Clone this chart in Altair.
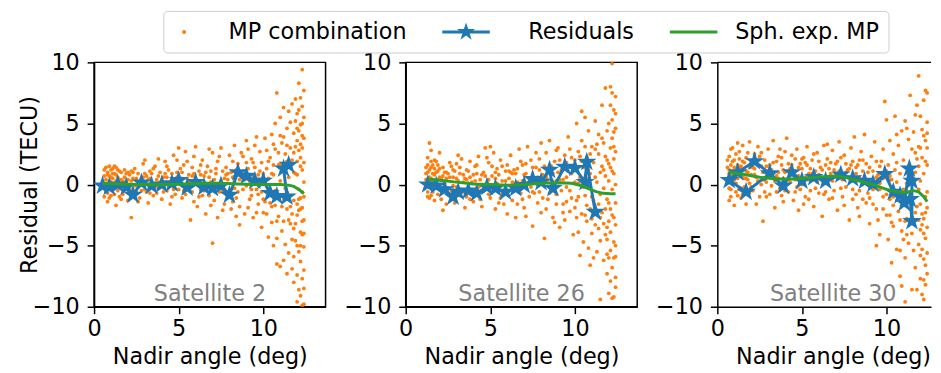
import altair as alt
import pandas as pd

FONT = "DejaVu Sans"
FS = 22.5
series_names = ["MP combination", "Residuals", "Sph. exp. MP"]
series_colors = ["#ff7f0e", "#1f77b4", "#2ca02c"]
satellites = ["Satellite 2", "Satellite 26", "Satellite 30"]
x_ticks = [0, 5, 10]
y_ticks = [-10, -5, 0, 5, 10]
y_domain = [-10, 10]
x_domains = [[0, 13.68], [0, 13.68], [0, 12.63]]
panel_widths = [234, 234, 216]
sat_label_pos = [6.85, -9.0]

# ---- MP combination scatter (x = nadir angle, y = residual) ----
mp_sat2 = [
    (0.6,1.2),(0.7,0.4),(0.7,-0.6),(0.8,1.0),(0.8,-1.4),(0.9,0.7),(0.9,1.5),(1.0,0.2),(1.0,-0.9),(1.1,1.3),
    (1.1,0.5),(1.2,-0.3),(1.2,0.9),(1.3,1.4),(1.3,-1.7),(1.4,0.6),(1.4,-0.5),(1.5,1.1),(0.6,-0.2),(0.8,0.8),
    (1.0,1.2),(1.2,0.1),(1.5,-1.0),(0.9,-0.4),(1.3,0.3),
    (1.6,0.4),(1.7,-0.8),(1.8,1.2),(1.9,0.2),(2.0,-1.3),(2.1,0.8),(2.2,-2.7),(2.3,0.5),(2.4,1.3),(2.5,-0.6),
    (2.6,0.9),(2.7,-1.1),(2.8,0.3),(2.9,1.7),(3.0,-0.4),(3.0,2.0),(3.1,0.7),(3.2,-1.5),(3.3,1.1),(3.4,0.1),
    (3.5,-0.9),(3.6,1.5),(3.7,0.4),(3.8,-0.3),(3.9,1.0),(4.0,-1.2),(2.0,1.0),(2.6,-0.2),(3.3,-0.7),(3.8,2.1),
    (4.1,0.6),(4.2,1.9),(4.3,-0.5),(4.4,1.2),(4.5,-1.6),(4.6,0.3),(4.7,2.4),(4.8,-0.8),(4.9,1.0),(5.0,3.0),
    (5.1,0.1),(5.2,-1.1),(5.3,1.6),(5.4,2.7),(5.5,-0.3),(5.6,0.8),(5.7,-2.9),(5.8,1.4),(5.9,-1.4),(6.0,3.1),
    (4.4,-0.2),(4.9,2.0),(5.2,0.5),(5.5,1.9),(5.8,-0.6),(6.0,0.4),(4.6,-1.0),(5.3,-0.5),(5.9,2.3),(4.2,0.9),
    (6.1,-1.8),(6.2,1.1),(6.3,-0.4),(6.4,2.0),(6.5,0.7),(6.6,-2.4),(6.7,1.5),(6.8,-0.9),(6.9,0.2),(7.0,-4.8),
    (7.0,2.6),(7.1,-1.3),(7.2,0.9),(7.3,1.9),(7.4,-0.6),(7.5,3.0),(7.6,-2.1),(7.7,0.5),(7.8,1.4),(7.9,-1.0),
    (8.0,2.4),(6.3,1.6),(6.6,0.1),(6.9,-1.7),(7.2,-0.2),(7.4,2.3),(7.7,-1.6),(7.9,0.9),(6.2,-1.0),(6.8,2.9),
    (7.3,-2.7),(7.6,1.1),
    (8.1,-2.0),(8.2,0.6),(8.3,3.2),(8.4,-1.1),(8.5,1.7),(8.6,-3.3),(8.7,2.6),(8.8,-0.4),(8.9,1.1),(9.0,3.6),
    (9.1,-1.9),(9.2,0.3),(9.3,2.1),(9.4,-2.7),(9.5,1.4),(9.6,3.9),(9.7,-0.8),(9.8,2.7),(9.9,-3.5),(10.0,0.9),
    (8.3,-0.3),(8.6,0.4),(8.9,-2.4),(9.1,2.9),(9.4,0.7),(9.7,-1.6),(9.9,1.8),(8.2,1.9),(8.8,2.3),(9.3,-0.9),
    (9.6,-2.3),(10.0,-1.2),(8.4,-2.6),(9.0,-0.1),(9.8,0.2),(9.5,3.2),
    (10.1,3.8),(10.2,-2.4),(10.2,1.3),(10.3,-4.3),(10.4,2.2),(10.4,-0.6),(10.5,4.1),(10.5,-3.1),(10.6,0.8),(10.6,-5.0),
    (10.7,2.9),(10.7,-1.7),(10.8,7.5),(10.8,-4.4),(10.9,1.6),(10.9,-2.6),(11.0,5.5),(11.0,-6.7),(11.0,0.3),(11.1,3.4),
    (11.1,-3.8),(11.2,6.3),(11.2,-1.1),(11.2,-6.2),(11.3,2.5),(11.3,-4.9),(11.4,4.6),(11.4,-2.0),(11.4,-7.3),(11.5,6.0),
    (11.5,0.6),(11.5,-5.6),(10.3,0.5),(10.6,3.3),(10.9,-0.9),(11.1,1.1),(11.3,-0.3),(10.1,-1.4),(10.8,-6.5),(11.0,4.0),
    (11.4,1.9),(11.2,3.9),(10.5,-1.8),(10.7,5.0),
    (11.6,5.1),(11.6,-3.2),(11.7,2.0),(11.7,-6.9),(11.7,6.6),(11.8,-1.3),(11.8,4.2),(11.8,-8.0),(11.9,0.9),(11.9,-4.6),
    (11.9,7.0),(12.0,-2.5),(12.0,3.6),(12.0,-7.4),(12.0,5.8),(12.1,-0.4),(12.1,-5.5),(12.1,2.8),(12.1,8.3),(12.2,-3.9),
    (12.2,4.9),(12.2,-9.1),(12.2,1.5),(12.2,-6.3),(12.3,6.4),(12.3,-1.9),(12.3,9.4),(12.3,-4.1),(12.3,3.0),(12.3,-7.7),
    (12.4,-9.8),(12.4,0.2),(12.4,5.5),(12.4,-2.9),(12.4,7.7),(12.4,-5.1),(12.2,2.2),(12.1,-2.1),(11.9,3.1),(12.0,-9.6),
    (12.3,-9.9),(11.6,-0.9),(11.8,1.0),(12.4,1.8),(12.2,-1.1),(12.1,6.1),(12.3,4.0),(12.0,0.8),(11.7,-2.4),(12.4,-8.5),
    (0.6,0.7),(0.7,1.4),(0.8,0.1),(0.9,-1.1),(1.0,0.6),(1.1,-0.1),(1.2,1.5),(1.3,0.8),(1.4,0.0),(1.5,0.4),
    (1.6,1.0),(1.7,0.3),(1.8,-0.4),(1.9,0.9),(2.1,-0.3),(2.2,0.3),(2.3,1.0),(2.5,0.5),(2.7,0.2),(2.8,-0.5),
    (3.0,0.9),(3.2,0.4),(3.4,0.9),(3.6,-0.2),(3.8,0.7),(4.0,0.3),(4.3,0.6),(4.5,0.2),(4.7,-0.4),(4.9,0.6),
    (5.1,1.3),(5.4,-0.8),(5.6,0.2),(5.8,0.7),(6.1,0.3),(6.3,0.8),(6.5,-0.5),(6.8,0.6),(7.0,0.1),(7.2,1.3),
    (7.5,0.3),(7.7,-0.4),(7.9,0.4),(8.1,1.0),(8.3,0.2),(8.5,-0.6),(8.7,0.9),(8.9,0.4),(9.1,1.3),(9.3,-0.4),
    (9.5,0.1),(9.7,0.8),(9.9,-0.6),(10.1,0.2),(10.3,1.9),(10.5,0.9),(10.7,-0.5),(10.9,2.6),(11.1,-1.8),(11.3,1.5),
    (11.5,-2.9),(11.6,3.0),(11.7,-4.5),(11.8,2.6),(11.9,-3.2),(12.0,1.9),(12.1,-1.2),(12.2,3.3),(12.3,-0.6),(12.4,3.8),
    (12.1,4.4),(12.0,-5.0),(12.3,-3.0),(12.2,-2.0),(12.4,-4.0),(11.9,5.2),(12.2,7.1),(12.3,1.2),(12.4,-7.0),(12.0,-1.6),
    (11.8,-5.9),(12.1,-8.6),
    (0.6,-1.0),(0.7,0.0),(0.8,-0.7),(0.9,0.3),(1.0,-0.3),(1.1,0.9),(1.2,-0.8),(1.4,1.2),(1.5,-0.2),(1.6,-1.2),
    (1.8,0.6),(2.0,0.4),(2.2,1.1),(2.4,-0.1),(2.6,-1.4),(2.9,0.6),(3.1,-0.6),(3.3,0.5),(3.5,1.3),(3.7,-0.7),
    (3.9,0.2),(4.1,-0.6),(4.3,1.5),(4.6,0.9),(4.8,0.2),(5.0,-0.4),(5.2,1.0),(5.5,0.5),(5.7,0.0),(5.9,0.9),
    (6.2,0.1),(6.4,-0.9),(6.6,1.0),(6.9,1.1),(7.1,0.4),(7.3,-0.1),(7.6,-0.6),(7.8,0.8),(8.0,-0.5),(8.2,-1.4),
    (8.4,1.2),(8.6,-1.8),(8.8,0.6),(9.0,1.8),(9.2,-1.2),(9.4,1.8),(9.6,-0.4),(9.8,1.1),(10.0,-2.3),(10.2,2.8),
    (10.4,-1.5),(10.6,1.6),(10.8,-3.0),(11.0,1.7),(11.2,-3.0),(11.4,3.2),(11.6,-1.8),(11.8,-3.6),(12.0,4.6),(12.2,-5.0),
    (12.4,-1.0),(12.3,5.0),
]
mp_sat26 = [
    (1.2,0.9),(1.3,2.2),(1.3,-0.6),(1.4,3.4),(1.4,1.2),(1.4,-1.1),(1.5,0.5),(1.5,2.8),(1.6,1.6),(1.6,-0.2),
    (1.7,0.8),(1.7,-1.3),(1.8,1.9),(1.8,0.2),(1.9,-0.8),(1.9,1.1),(2.0,0.6),(2.0,2.6),(1.3,1.6),(1.5,-0.9),
    (1.7,2.0),(1.9,0.4),(1.2,-0.2),(1.6,0.9),
    (2.1,-1.2),(2.2,1.4),(2.3,0.1),(2.4,-1.6),(2.5,0.9),(2.6,1.8),(2.7,-0.5),(2.8,0.6),(2.9,-1.5),(3.0,1.7),
    (3.1,0.3),(3.2,-0.9),(3.3,2.1),(3.4,0.8),(3.5,-1.9),(3.6,1.2),(3.7,-0.4),(3.8,1.9),(3.9,0.2),(4.0,-1.4),
    (2.4,0.5),(2.9,1.1),(3.4,-0.6),(3.8,0.6),(2.2,-2.1),(3.1,2.4),(3.6,-1.0),(2.7,1.5),
    (4.1,1.5),(4.2,-0.7),(4.3,2.3),(4.4,0.4),(4.5,-1.8),(4.6,1.0),(4.7,3.0),(4.8,-0.3),(4.9,1.8),(5.0,-1.1),
    (5.1,0.7),(5.2,2.6),(5.3,-2.0),(5.4,1.3),(5.5,-0.6),(5.6,2.0),(5.7,0.3),(5.8,-1.6),(5.9,1.1),(6.0,-2.4),
    (4.4,-1.2),(4.8,2.2),(5.2,-0.3),(5.6,-1.1),(6.0,1.6),(4.2,0.9),(5.0,3.1),(5.4,0.1),
    (6.1,0.5),(6.2,2.4),(6.3,-1.3),(6.4,1.2),(6.5,-2.7),(6.6,0.2),(6.7,2.9),(6.8,-0.7),(6.9,1.6),(7.0,-1.9),
    (7.1,0.9),(7.2,3.1),(7.3,-1.0),(7.4,2.0),(7.5,-3.4),(7.6,0.4),(7.7,2.6),(7.8,-1.5),(7.9,1.2),(8.0,-2.3),
    (6.3,0.9),(6.8,1.9),(7.1,-2.6),(7.4,-0.2),(7.7,1.4),(8.0,3.4),(6.6,-1.6),(7.9,-0.6),
    (8.1,0.8),(8.2,-4.4),(8.3,2.6),(8.4,-1.2),(8.5,3.6),(8.6,0.1),(8.7,-2.7),(8.8,1.9),(8.9,-0.8),(9.0,3.0),
    (9.1,-3.5),(9.2,1.2),(9.3,-1.6),(9.4,2.4),(9.5,-0.2),(9.6,3.9),(9.7,-2.2),(9.8,0.9),(9.9,-4.1),(10.0,2.0),
    (8.3,-2.0),(8.6,1.5),(8.9,2.8),(9.2,-0.5),(9.5,1.8),(9.8,-1.1),(8.5,-0.7),(9.1,0.4),(9.7,2.9),(10.0,-1.9),
    (8.8,-3.1),(9.4,-2.9),
    (10.1,5.0),(10.1,-1.3),(10.2,2.7),(10.2,-3.9),(10.3,0.6),(10.3,-5.8),(10.4,3.6),(10.4,-2.4),(10.5,1.4),(10.5,-4.7),
    (10.6,5.5),(10.6,-0.9),(10.7,2.2),(10.7,-3.0),(10.8,4.4),(10.8,-5.2),(10.9,0.9),(10.9,-2.0),(11.0,3.1),(11.0,-4.0),
    (11.1,1.8),(11.1,-6.0),(11.2,2.9),(11.2,-3.3),(11.3,0.2),(11.3,-5.5),(11.4,4.1),(11.4,-1.6),(11.5,1.0),(11.5,-4.6),
    (10.4,6.0),(10.9,-6.6),(11.2,5.2),(10.2,0.1),(10.7,0.5),(11.0,-1.0),(11.4,-3.6),(10.6,3.1),(11.5,-9.4),
    (11.6,6.5),(11.6,-2.3),(11.7,3.4),(11.7,-6.2),(11.8,0.7),(11.8,-4.1),(11.8,7.9),(11.9,2.0),(11.9,-7.3),(11.9,-1.2),
    (12.0,5.0),(12.0,-3.0),(12.0,-8.9),(12.1,1.4),(12.1,-5.4),(12.1,8.0),(12.2,-0.4),(12.2,3.8),(12.2,-6.8),(12.2,9.9),
    (12.3,-2.7),(12.3,6.1),(12.3,-9.2),(12.3,0.9),(12.3,-4.7),(12.4,2.7),(12.4,-7.6),(12.4,4.6),(12.4,-1.5),(12.4,7.2),
    (12.1,-2.0),(11.9,4.4),(12.0,0.3),(12.2,-9.3),(11.7,-0.3),(12.4,-5.9),(12.3,2.1),(11.6,1.5),(12.0,-6.0),(12.2,5.3),
    (12.4,0.0),(12.1,-7.9),
    (1.2,0.4),(1.3,0.1),(1.3,1.0),(1.4,0.6),(1.5,1.4),(1.6,-0.6),(1.7,1.3),(1.8,-0.3),(1.9,1.6),(2.0,-0.4),
    (2.1,0.5),(2.3,1.0),(2.5,-0.3),(2.6,0.6),(2.8,1.2),(3.0,-0.2),(3.2,0.9),(3.3,-0.4),(3.5,0.5),(3.7,1.1),
    (3.9,-0.7),(4.1,0.3),(4.3,-0.2),(4.5,0.8),(4.6,-0.5),(4.9,0.4),(5.1,1.5),(5.3,0.5),(5.5,0.8),(5.7,-0.8),
    (5.9,0.3),(6.1,-0.5),(6.2,1.0),(6.4,-0.4),(6.6,1.3),(6.9,0.3),(7.0,0.8),(7.3,0.5),(7.5,1.4),(7.6,-0.7),
    (7.8,0.6),(8.0,0.1),(8.2,1.5),(8.4,0.4),(8.7,0.9),(8.9,-1.6),(9.0,1.0),(9.3,0.4),(9.5,-1.4),(9.6,1.1),
    (9.8,2.2),(10.0,0.2),(10.2,-1.0),(10.4,1.9),(10.6,-2.5),(10.8,1.2),(11.0,-2.8),(11.2,0.6),(11.4,2.5),(11.5,-0.8),
    (11.6,3.8),(11.7,-3.2),(11.8,2.3),(11.9,-4.5),(12.0,1.7),(12.1,3.0),(12.2,-2.5),(12.3,4.3),(12.4,-3.3),(12.0,-1.5),
    (12.2,1.1),(12.3,-6.0),(12.4,5.8),(11.8,-2.0),(12.1,6.5),(11.9,-5.7),(12.4,-8.4),(12.2,7.5),
    (1.2,1.4),(1.3,-1.0),(1.4,0.3),(1.5,1.9),(1.6,0.2),(1.8,1.0),(1.9,-0.3),(2.0,1.3),(2.2,0.7),(2.4,1.0),
    (2.6,-0.9),(2.8,-0.1),(3.0,0.5),(3.2,1.4),(3.4,0.2),(3.6,0.4),(3.8,-1.2),(4.0,0.8),(4.2,1.6),(4.4,-0.1),
    (4.7,0.7),(4.9,-0.8),(5.1,-0.2),(5.3,1.0),(5.5,-1.5),(5.7,1.5),(5.9,-0.4),(6.1,1.1),(6.3,0.2),(6.5,0.9),
    (6.7,-0.3),(6.9,-1.2),(7.1,1.7),(7.3,0.1),(7.5,-0.6),(7.7,0.2),(7.9,2.1),(8.1,-1.1),(8.3,0.6),(8.5,1.0),
    (8.7,-0.3),(8.9,0.3),(9.1,2.0),(9.3,-2.3),(9.5,0.6),(9.7,-0.5),(9.9,1.4),(10.1,-2.7),(10.3,2.3),(10.5,-0.2),
    (10.7,-1.7),(10.9,2.5),(11.1,-1.3),(11.3,3.3),(11.5,-2.7),(11.7,1.2),(11.9,-3.5),(12.1,-3.9),(12.3,3.1),(12.4,-5.0),
]
mp_sat30 = [
    (0.6,0.3),(0.7,2.3),(0.7,-1.3),(0.8,1.6),(0.8,-0.4),(0.9,3.0),(0.9,0.8),(1.0,-1.7),(1.0,2.0),(1.1,0.1),
    (1.2,3.4),(1.2,-0.9),(1.3,1.3),(1.3,2.7),(1.4,-1.1),(1.5,0.6),(1.5,3.2),(1.6,-0.2),(1.7,2.2),(1.7,-1.6),
    (1.8,1.0),(1.9,3.5),(1.9,-0.7),(2.0,1.8),(0.8,2.9),(1.1,1.1),(1.4,-0.3),(1.8,0.4),(0.7,0.9),(1.6,1.8),
    (2.1,-0.5),(2.2,2.5),(2.3,0.6),(2.4,3.1),(2.5,-1.0),(2.6,1.5),(2.7,-3.0),(2.8,2.0),(2.9,0.2),(3.0,2.9),
    (3.1,-0.8),(3.2,1.2),(3.3,3.6),(3.4,-1.9),(3.5,0.7),(3.6,2.3),(3.7,-0.3),(3.8,1.6),(3.9,-1.4),(4.0,2.7),
    (2.3,-1.6),(2.6,0.0),(3.0,1.1),(3.5,1.9),(3.8,-0.9),(2.2,1.3),(3.2,-0.1),(3.9,0.5),
    (4.1,3.8),(4.2,-0.6),(4.3,1.3),(4.4,2.4),(4.5,-1.3),(4.6,0.4),(4.7,2.9),(4.8,-2.1),(4.9,1.7),(5.0,0.0),
    (5.1,2.2),(5.2,-1.0),(5.3,3.1),(5.4,0.9),(5.5,-0.5),(5.6,2.0),(5.7,-1.8),(5.8,1.1),(5.9,2.6),(6.0,-0.7),
    (4.4,0.8),(4.9,-0.4),(5.3,1.6),(5.7,0.4),(6.0,1.9),(4.6,2.1),(5.1,-1.6),
    (6.1,1.4),(6.2,-2.6),(6.3,3.2),(6.4,0.1),(6.5,2.1),(6.6,-1.2),(6.7,0.9),(6.8,2.8),(6.9,-0.5),(7.0,1.7),
    (7.1,-2.1),(7.2,3.5),(7.3,0.5),(7.4,-1.0),(7.5,2.4),(7.6,-0.2),(7.7,1.2),(7.8,-2.9),(7.9,3.0),(8.0,0.3),
    (6.3,-0.8),(6.7,1.8),(7.1,0.6),(7.5,-1.7),(7.9,1.6),(6.5,3.3),(7.3,2.2),(8.0,-1.2),
    (8.1,3.9),(8.2,-0.8),(8.3,1.6),(8.4,-2.6),(8.5,2.7),(8.6,0.0),(8.7,4.1),(8.8,-1.5),(8.9,1.0),(9.0,-3.2),
    (9.1,2.3),(9.2,-0.4),(9.3,3.5),(9.4,-2.0),(9.5,0.8),(9.6,-4.1),(9.7,1.9),(9.8,-1.0),(9.9,6.8),(10.0,-2.5),
    (8.3,-1.9),(8.6,2.0),(8.9,-0.7),(9.2,1.1),(9.5,-2.9),(9.8,2.9),(8.4,0.6),(9.0,0.2),(9.6,1.5),(10.0,5.3),
    (9.4,-5.0),
    (10.1,-4.5),(10.1,1.6),(10.2,3.6),(10.2,-1.2),(10.3,-6.4),(10.3,0.4),(10.4,2.5),(10.4,-3.4),(10.5,5.6),(10.5,-0.6),
    (10.6,-5.3),(10.6,1.8),(10.7,3.2),(10.7,-2.2),(10.8,-7.5),(10.8,0.9),(10.9,4.4),(10.9,-3.8),(11.0,-1.4),(11.0,2.0),
    (11.1,-6.0),(11.1,5.2),(11.2,0.1),(11.2,-2.8),(11.3,3.7),(11.3,-4.8),(11.4,7.3),(11.4,-0.9),(11.5,2.9),(11.5,-8.6),
    (10.2,-2.5),(10.6,4.1),(11.0,-4.5),(11.3,1.2),(10.4,-1.0),(10.9,-8.3),(11.1,-9.6),(11.2,4.6),(10.8,-5.4),
    (11.6,4.3),(11.6,-3.1),(11.7,1.0),(11.7,-6.8),(11.8,6.5),(11.8,-1.8),(11.9,3.1),(11.9,-4.9),(11.9,8.9),(12.0,0.3),
    (12.0,-7.7),(12.0,5.6),(12.1,-2.4),(12.1,2.2),(12.1,-9.0),(12.2,6.9),(12.2,-4.0),(12.2,0.9),(12.2,-6.1),(12.3,3.6),
    (12.3,-1.0),(12.3,7.7),(12.3,-8.2),(12.4,-3.5),(12.4,5.1),(12.4,1.6),(12.4,-5.6),(12.4,7.5),(11.6,0.5),(11.8,-8.6),
    (12.0,3.0),(12.1,-5.3),(12.3,-6.6),(11.7,2.6),(12.2,4.0),(11.9,-0.4),(12.4,-1.9),(12.0,-3.7),(12.2,-9.4),
    (0.6,1.4),(0.7,-0.3),(0.8,0.5),(0.9,1.9),(1.0,0.4),(1.1,2.5),(1.2,1.6),(1.3,-0.4),(1.4,0.9),(1.5,1.9),
    (1.6,0.5),(1.7,1.1),(1.8,2.6),(1.9,0.1),(2.0,0.8),(2.1,1.4),(2.3,1.9),(2.4,0.3),(2.5,2.3),(2.7,1.0),
    (2.8,-0.6),(2.9,1.5),(3.1,0.6),(3.3,1.8),(3.4,0.3),(3.6,1.0),(3.7,2.9),(3.9,1.2),(4.0,-0.5),(4.2,1.7),
    (4.3,0.2),(4.5,1.1),(4.7,-0.2),(4.8,1.4),(5.0,2.1),(5.2,0.6),(5.4,-1.2),(5.5,1.3),(5.7,2.5),(5.9,0.2),
    (6.1,0.5),(6.2,1.2),(6.4,-0.6),(6.6,1.3),(6.8,0.3),(6.9,1.2),(7.1,1.9),(7.3,-0.3),(7.5,0.9),(7.6,1.7),
    (7.8,0.5),(8.0,1.9),(8.2,0.9),(8.4,-0.5),(8.6,1.1),(8.8,0.4),(9.0,1.4),(9.2,-1.6),(9.4,0.6),(9.6,-0.4),
    (9.8,0.5),(10.0,-0.8),(10.2,0.7),(10.4,-1.7),(10.6,0.2),(10.8,-2.9),(11.0,-0.4),(11.2,-4.1),(11.4,-2.0),(11.5,0.8),
    (11.6,-5.4),(11.8,2.1),(12.0,-1.6),(12.1,4.5),(12.2,-2.8),(12.3,1.9),(12.4,3.0),(12.3,-4.4),(12.0,-5.8),(12.4,-7.3),
    (11.7,5.7),(12.2,-7.8),(12.4,-0.6),(11.9,-2.9),
    (0.6,2.0),(0.7,1.2),(0.8,-1.0),(0.9,0.3),(1.0,1.4),(1.1,-0.6),(1.2,0.5),(1.3,2.1),(1.4,1.5),(1.5,-0.8),
    (1.7,0.5),(1.9,1.4),(2.0,-0.2),(2.2,0.8),(2.4,1.6),(2.6,2.6),(2.7,0.4),(2.9,-1.0),(3.1,1.6),(3.3,0.9),
    (3.5,-0.6),(3.6,0.5),(3.8,2.2),(4.0,1.0),(4.2,0.4),(4.4,1.6),(4.6,-0.6),(4.8,0.7),(5.0,1.3),(5.2,1.8),
    (5.4,0.4),(5.6,0.9),(5.8,-0.3),(6.0,0.8),(6.2,0.3),(6.4,1.6),(6.6,0.6),(6.8,-1.1),(7.0,0.9),(7.2,1.1),
    (7.4,0.4),(7.6,1.0),(7.8,1.3),(8.0,-0.4),(8.2,1.4),(8.4,2.0),(8.6,-1.2),(8.8,1.7),(9.0,-1.1),(9.2,0.4),
    (9.4,1.9),(9.6,0.1),(9.8,-2.0),(10.0,1.1),(10.3,-3.1),(10.5,1.2),(10.7,-0.9),(10.9,-1.7),(11.1,-3.0),(11.3,-1.1),
    (11.5,-4.0),(11.7,-2.3),(11.9,1.5),(12.1,-3.3),(12.3,-2.3),(12.4,4.2),
]

# ---- Residuals (in drawing order) ----
res_sat2_x = [0.5,0.9,1.4,1.9,2.3,2.8,3.4,4.0,4.6,5.0,5.5,6.0,6.5,7.0,7.5,8.0,8.5,9.0,9.5,10.0,10.4,10.8,11.4,11.2,11.5]
res_sat2_y = [-0.1,-0.2,0.0,-0.2,-0.85,0.15,-0.1,0.0,0.1,0.35,-0.25,0.2,-0.2,-0.3,-0.1,-0.85,1.0,0.7,0.3,0.3,-0.7,-0.95,-1.0,1.3,1.6]
res_sat26_x = [1.3,1.8,2.3,2.8,3.1,3.7,4.2,4.8,5.3,5.9,6.5,7.0,7.5,8.0,8.5,8.7,9.4,10.0,10.6,10.7,11.2]
res_sat26_y = [0.0,-0.1,-0.4,-1.0,-0.6,-0.5,-0.7,-0.2,-0.3,-0.6,-0.3,-0.05,0.45,0.2,1.2,-0.3,1.45,1.35,0.2,1.85,-2.25]
res_sat30_x = [3.1,1.7,0.7,1.2,2.2,3.1,3.9,4.4,5.0,5.7,6.4,7.3,8.0,8.7,9.2,9.9,10.4,10.8,11.05,11.35,11.5,11.5,11.4]
res_sat30_y = [0.9,-0.6,0.35,1.0,1.9,0.9,-0.1,1.0,0.3,0.6,0.3,0.8,0.5,0.3,0.05,0.85,-0.6,-0.9,-1.5,1.3,0.3,-3.0,-1.2]

# ---- Spherical expansion of MP ----
sph_sat2_x = [0.5,1.5,2.5,3.5,4.5,5.5,6.5,7.5,8.5,9.5,10.5,11.0,11.5,11.8,12.1,12.4]
sph_sat2_y = [0.1,0.05,0.0,0.0,0.0,0.05,0.1,0.1,0.05,0.0,0.0,0.0,-0.05,-0.15,-0.4,-0.75]
sph_sat26_x = [1.3,2.0,3.0,4.0,5.0,6.0,7.0,8.0,9.0,9.8,10.4,10.9,11.3,11.7,12.1,12.4]
sph_sat26_y = [0.45,0.35,0.2,0.05,0.0,-0.05,0.0,0.1,0.15,0.1,-0.1,-0.4,-0.6,-0.72,-0.75,-0.75]
sph_sat30_x = [0.7,1.5,2.5,3.5,4.5,5.5,6.3,7.0,7.7,8.5,9.3,10.0,10.6,11.1,11.6,11.9,12.2,12.4]
sph_sat30_y = [1.0,0.85,0.6,0.45,0.45,0.55,0.65,0.7,0.55,0.25,-0.05,-0.4,-0.6,-0.65,-0.5,-0.6,-1.0,-1.4]

mp_all = [mp_sat2, mp_sat26, mp_sat30]
res_all = [(res_sat2_x, res_sat2_y), (res_sat26_x, res_sat26_y), (res_sat30_x, res_sat30_y)]
sph_all = [(sph_sat2_x, sph_sat2_y), (sph_sat26_x, sph_sat26_y), (sph_sat30_x, sph_sat30_y)]

# ---- marker / legend glyph paths ----
STAR = [(0,-1),(0.225,-0.309),(0.951,-0.309),(0.363,0.118),(0.588,0.809),
        (0,0.382),(-0.588,0.809),(-0.363,0.118),(-0.951,-0.309),(-0.225,-0.309)]

def star_path(cx=0.0, r=1.0):
    pts = ["%.3f,%.3f" % (cx + r * px, r * py) for px, py in STAR]
    return "M" + "L".join(pts) + "Z"

def rect_path(x0, x1, h):
    return "M%.3f,%.3fH%.3fV%.3fH%.3fZ" % (x0, -h, x1, h, x0)

legend_paths = [
    "M0.17,0A0.17,0.17 0 1,1 -0.17,0A0.17,0.17 0 1,1 0.17,0Z",
    rect_path(-3.5, 0.5, 0.125) + star_path(-1.5, 0.8),
    rect_path(-1.75, 2.25, 0.125),
]

legend = alt.Legend(
    title=None, orient="none", legendX=70, legendY=-52, direction="horizontal",
    labelFont=FONT, labelFontSize=FS, labelColor="black", labelLimit=400,
    symbolSize=576, symbolStrokeWidth=0, symbolOpacity=1,
    labelOffset=33, columnPadding=36, padding=9,
    strokeColor="#cccccc", fillColor="white", cornerRadius=4,
)


def panel(i):
    mp = pd.DataFrame(mp_all[i], columns=["x", "y"])
    rx, ry = res_all[i]
    res = pd.DataFrame({"x": rx, "y": ry, "k": list(range(len(rx)))})
    sx, sy = sph_all[i]
    sph = pd.DataFrame({"x": sx, "y": sy, "k": list(range(len(sx)))})

    xs = alt.Scale(domain=x_domains[i], nice=False, zero=False)
    ys = alt.Scale(domain=y_domain, nice=False, zero=False)
    xenc = alt.X("x:Q", scale=xs, title="Nadir angle (deg)",
                 axis=alt.Axis(values=x_ticks, titleX=117))
    if i == 0:
        yenc = alt.Y("y:Q", scale=ys, title="Residual (TECU)", axis=alt.Axis(values=y_ticks))
    else:
        yenc = alt.Y("y:Q", scale=ys, title=None, axis=alt.Axis(values=y_ticks))

    layers = [
        alt.Chart(mp).mark_circle(size=15, color=series_colors[0], opacity=1, clip=True)
        .encode(x=xenc, y=yenc),
        alt.Chart(res).mark_line(color=series_colors[1], strokeWidth=3, clip=True)
        .encode(x=xenc, y=yenc, order="k:Q"),
        alt.Chart(res).mark_point(shape=star_path(), filled=True, size=430,
                                  color=series_colors[1], opacity=1, clip=True)
        .encode(x=xenc, y=yenc),
        alt.Chart(sph).mark_line(color=series_colors[2], strokeWidth=3, clip=True)
        .encode(x=xenc, y=yenc, order="k:Q"),
        alt.Chart(pd.DataFrame({"t": [satellites[i]]}))
        .mark_text(font=FONT, fontSize=FS, color="#808080", baseline="middle", align="center")
        .encode(text="t:N", x=alt.datum(sat_label_pos[0]), y=alt.datum(sat_label_pos[1])),
    ]
    if i == 2:
        layers.append(
            alt.Chart(pd.DataFrame({"t": [0]})).mark_rule(color="black", strokeWidth=1.5)
            .encode(y=alt.datum(y_domain[1]))
        )
    if i == 0:
        sc = alt.Scale(domain=series_names, range=series_colors)
        ss = alt.Scale(domain=series_names, range=legend_paths)
        layers.append(
            alt.Chart(pd.DataFrame({"series": series_names}))
            .mark_point(filled=True, opacity=0)
            .encode(color=alt.Color("series:N", scale=sc, legend=legend),
                    shape=alt.Shape("series:N", scale=ss, legend=legend))
        )
    ch = alt.layer(*layers).properties(width=panel_widths[i], height=247)
    if i == 2:
        ch = ch.properties(view=alt.ViewBackground(stroke="transparent"))
    return ch


chart = (
    alt.hconcat(panel(0), panel(1), panel(2), spacing=16)
    .properties(padding={"left": 10, "top": 0, "right": 0, "bottom": 0})
    .configure_view(stroke="black", strokeWidth=1.5)
    .configure_axis(grid=False, domainColor="black", domainWidth=1.5, tickColor="black",
                    tickWidth=1.5, tickSize=7, labelFont=FONT, labelFontSize=FS,
                    labelColor="black", titleFont=FONT, titleFontSize=FS,
                    titleFontWeight="normal", titleColor="black")
    .configure_axisX(labelPadding=4, titlePadding=6, labelFlush=False)
    .configure_axisY(labelPadding=8, titlePadding=5, minExtent=48, maxExtent=48)
)

chart.save("out.html", embed_options={"renderer": "svg", "actions": False})
